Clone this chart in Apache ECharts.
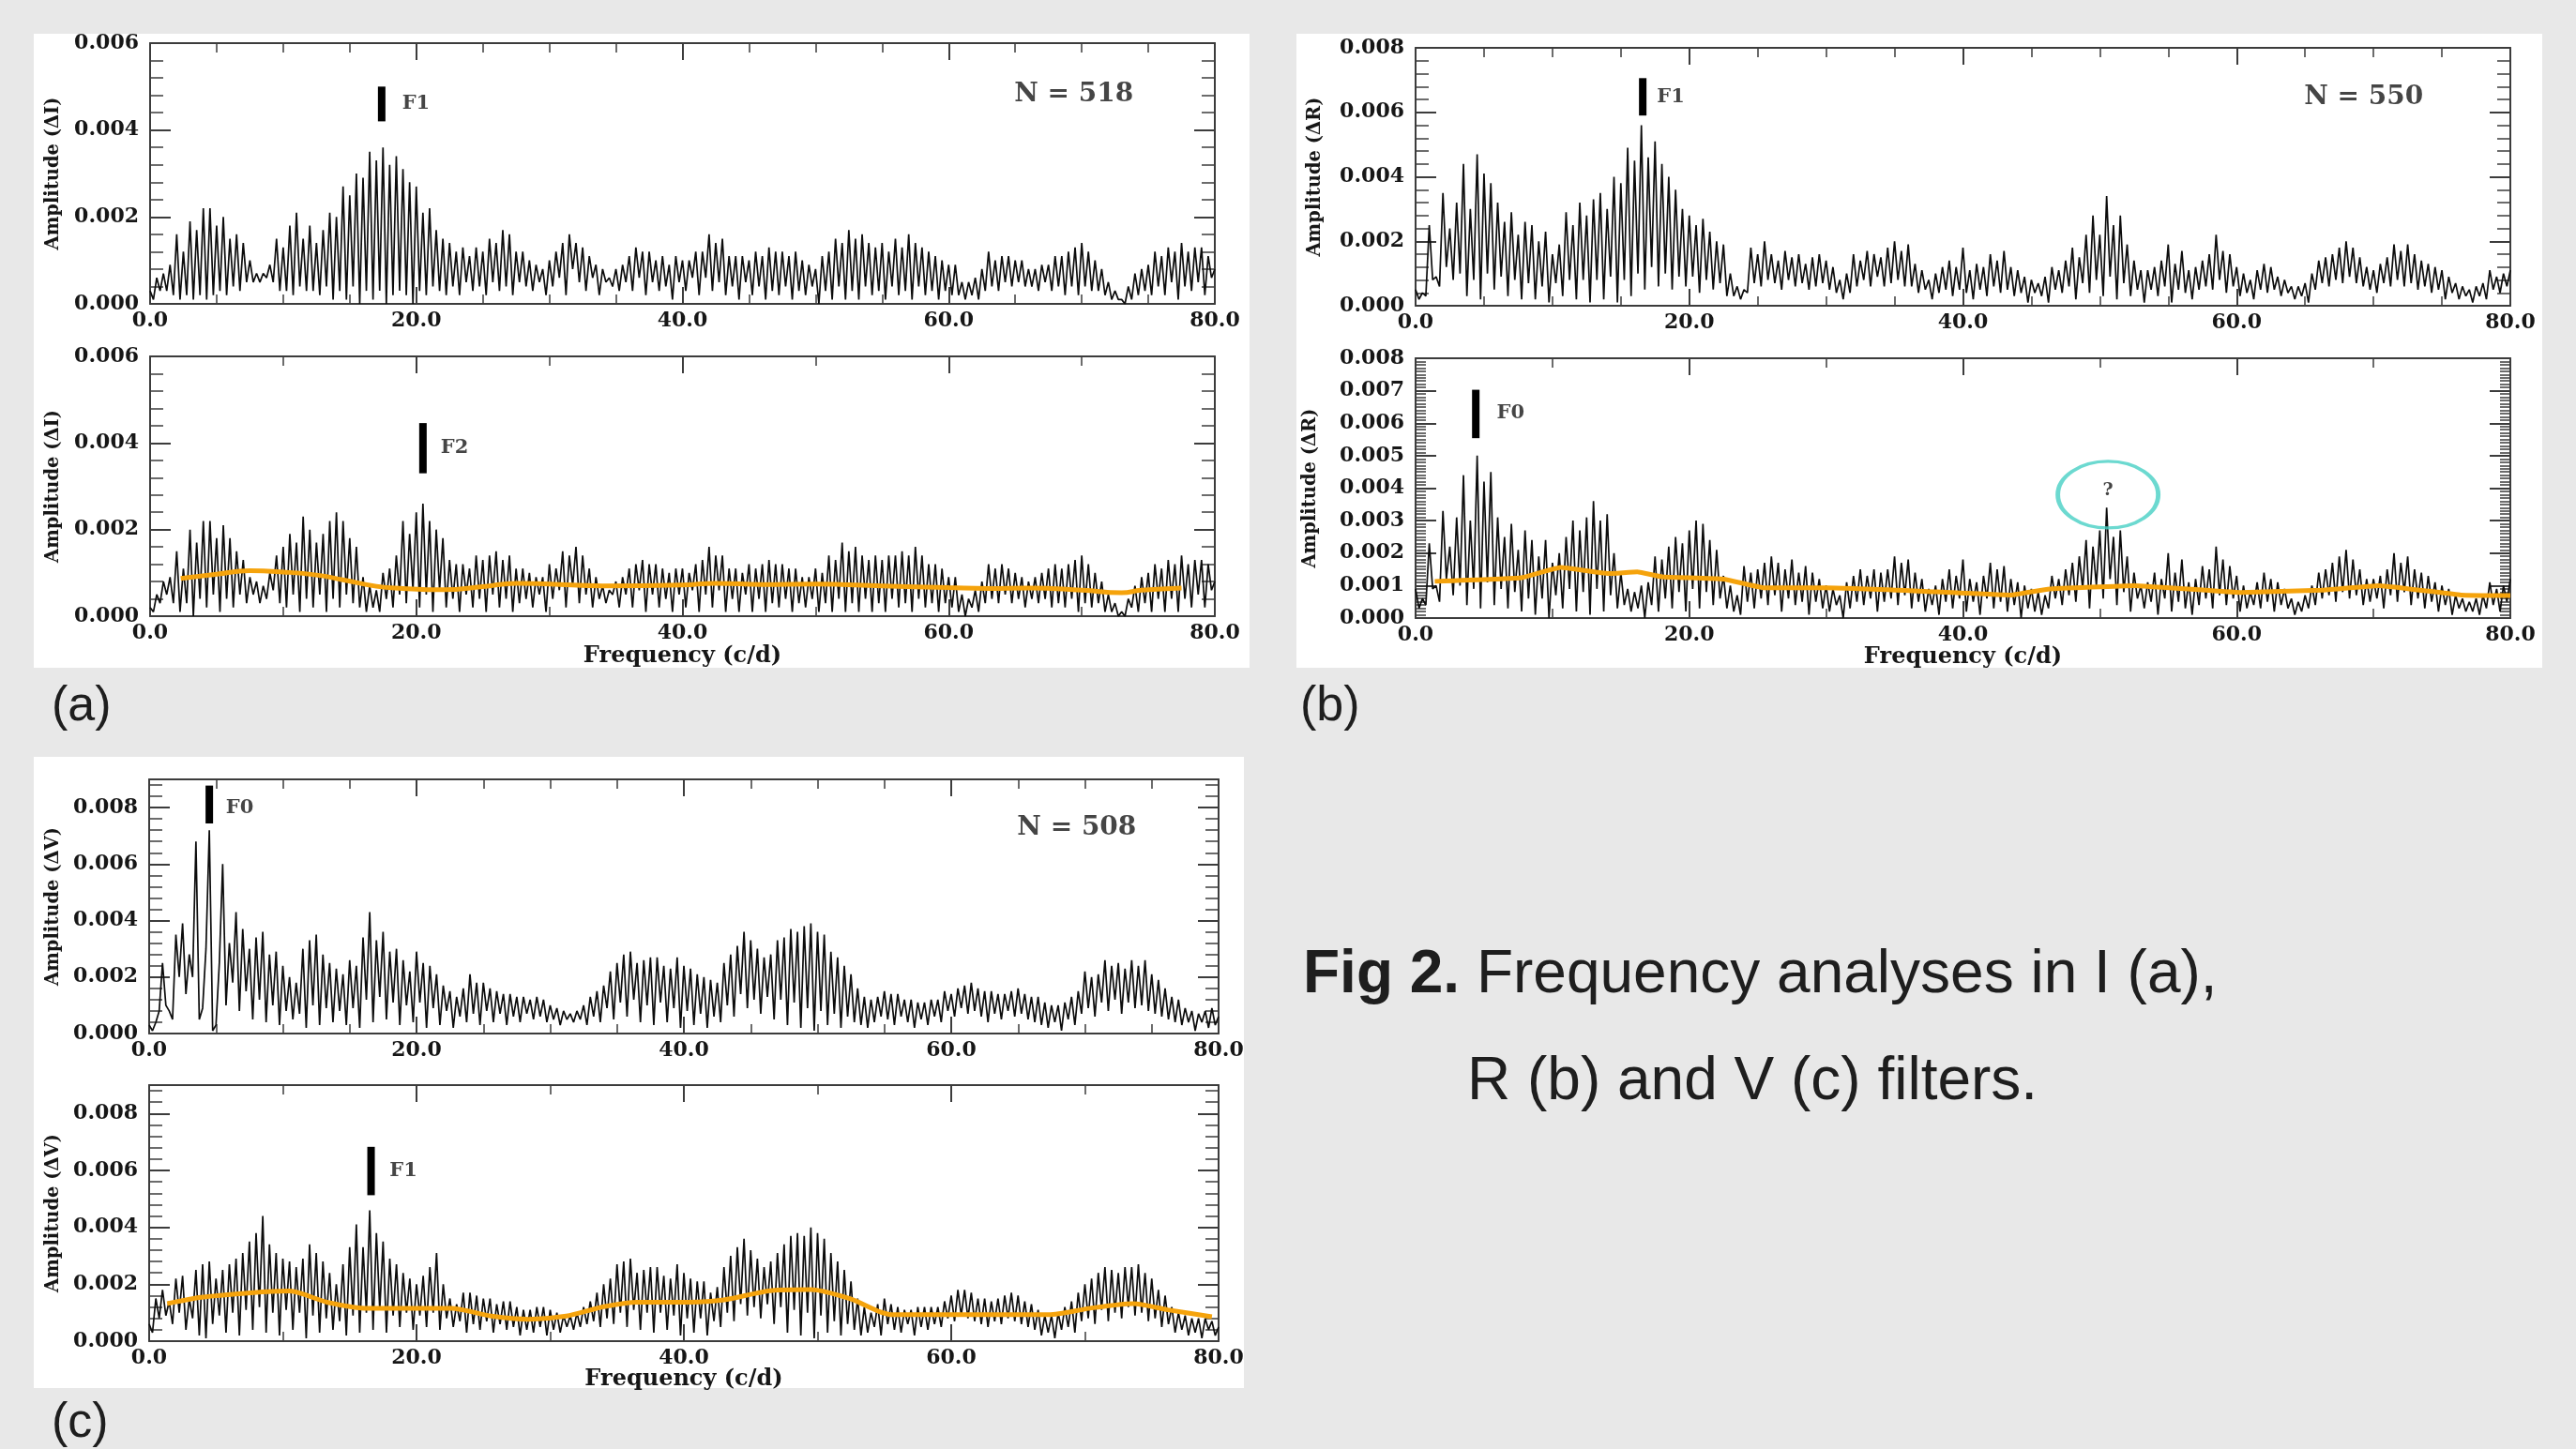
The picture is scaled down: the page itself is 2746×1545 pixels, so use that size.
<!DOCTYPE html>
<html>
<head>
<meta charset="utf-8">
<script src="https://cdn.jsdelivr.net/npm/echarts/dist/echarts.min.js"></script>
<style>
html,body{margin:0;padding:0;background:#e8e8e8;}
#chart{width:2746px;height:1545px;}
</style>
</head>
<body>
<div id="chart"></div>
<script>
// ---------------- DATA (amplitudes in units of 1e-4 mag) ----------------
const FREQ_STEP = 0.5;              // spacing of the peak samples (c/d); troughs sit half-way between
const xTickLabels = ['0.0', '20.0', '40.0', '60.0', '80.0'];
const yTickLabelsI = ['0.000', '0.002', '0.004', '0.006'];
const yTickLabelsR = ['0.000', '0.002', '0.004', '0.006', '0.008'];
const yTickLabelsRfine = ['0.000', '0.001', '0.002', '0.003', '0.004', '0.005', '0.006', '0.007', '0.008'];
const yTickLabelsV = ['0.000', '0.002', '0.004', '0.006', '0.008'];

// (a) I filter, original spectrum
const aTopPeaks = [
 3,6,7,9,16,12,19,17,22,22,18,20,15,16,14,10,7,7,9,15,
 13,18,21,15,18,14,17,21,20,27,25,30,29,35,33,36,32,34,31,28,
 27,21,22,17,15,14,12,13,11,13,12,15,14,17,16,12,12,10,9,8,
 10,12,14,16,14,13,11,9,8,6,8,9,11,13,12,12,10,11,9,11,
 10,10,12,12,16,14,15,11,11,11,10,12,11,13,12,12,11,12,10,9,
 8,11,12,15,14,17,15,16,14,13,14,12,15,13,16,14,13,12,11,10,
 9,9,5,5,6,8,12,10,11,11,10,10,8,8,9,9,11,11,12,13,
 14,12,10,8,5,3,1,4,7,8,9,12,11,13,12,14,12,13,13,11,
 8];
const aTopTroughs = [
 1,3,3,2,1,2,1,2,1,2,3,2,4,3,5,5,5,6,5,3,
 3,2,4,3,3,2,4,1,3,1,4,0,3,1,3,0,2,3,2,0,
 3,2,4,3,2,4,2,5,3,4,2,5,3,4,2,5,4,3,5,2,
 4,6,2,8,5,3,6,2,5,4,3,5,3,6,2,5,3,4,1,5,
 3,6,2,6,3,5,2,4,1,5,2,4,1,3,2,4,1,3,2,4,
 0,3,1,4,1,3,1,4,2,3,1,4,2,3,1,4,2,3,1,3,
 2,2,1,2,1,3,4,3,5,4,5,4,4,3,5,3,4,2,4,2,
 4,3,3,2,1,1,0,1,2,3,2,4,2,5,1,4,3,5,2,6];

// (a) I filter, after prewhitening
const aBotPeaks = [
 2,5,8,9,15,11,20,17,22,22,18,21,18,15,13,9,8,7,10,14,
 16,19,17,23,20,17,19,22,24,22,18,16,9,7,6,10,11,14,22,19,
 24,26,22,20,18,13,12,12,11,14,13,14,15,13,14,11,11,10,9,9,
 12,11,15,14,16,14,11,9,7,6,8,9,11,12,13,12,12,11,10,11,
 11,10,12,13,16,14,14,11,11,10,12,11,12,13,12,12,11,11,9,9,
 11,10,14,13,17,15,16,14,13,14,13,14,14,15,14,16,14,12,12,11,
 9,9,5,4,6,8,12,11,12,11,10,9,8,9,10,11,12,11,12,13,
 14,12,10,8,5,3,1,4,7,9,10,12,11,13,12,14,12,13,13,12,
 8];
const aBotTroughs = [
 1,3,5,3,1,3,0,4,2,5,1,4,2,5,3,5,3,4,6,3,
 2,5,1,4,2,5,1,4,2,5,3,2,1,2,1,4,2,5,3,6,
 2,5,1,6,2,4,1,5,2,4,1,5,2,4,1,3,4,2,5,1,
 4,6,2,7,3,5,2,4,3,5,2,5,2,6,1,5,2,4,1,5,
 2,6,1,5,2,6,1,4,1,5,1,4,1,3,2,4,1,3,2,4,
 1,3,1,4,1,3,1,4,1,3,1,4,2,3,1,4,2,3,1,3,
 2,1,0,2,1,3,4,3,5,3,4,2,4,3,4,2,3,2,4,1,
 3,2,3,1,1,0,0,2,1,3,1,4,1,4,1,4,2,5,2,6];
const aBotMeanFreq = [2.3,5,7.5,10,12.5,14.5,17,19,22,25,27.5,30,34,40,42.5,46,50,55,60,63,66,70,73,74.5,77.5];
const aBotMeanAmp  = [8.7,9.7,10.5,10.2,9.5,8.4,6.9,6.4,6.1,6.8,7.6,7.4,7.0,7.2,7.6,7.3,7.4,7.0,6.6,6.4,6.5,6.0,5.4,6.0,6.5];

// (b) R filter, original spectrum
const bTopPeaks = [
 5,4,25,9,35,24,32,44,30,47,41,38,32,26,29,22,26,25,20,23,
 16,19,29,25,32,28,33,35,30,40,38,49,45,56,46,51,44,40,36,30,
 28,25,27,23,20,19,10,6,5,18,16,20,16,14,17,15,16,13,15,16,
 14,12,8,10,16,14,17,16,15,18,20,17,19,13,11,8,10,12,14,12,
 18,11,13,12,16,14,17,12,11,9,8,7,9,12,11,14,18,15,22,28,
 22,34,25,28,19,14,11,11,12,14,19,13,17,11,12,14,16,22,17,16,
 12,10,8,11,13,12,9,8,6,6,7,10,14,15,16,18,20,18,15,12,
 11,13,15,19,17,19,16,14,13,12,11,9,7,6,5,6,7,11,9,10,
 11];
const bTopTroughs = [
 2,3,8,6,12,8,10,3,8,2,10,5,9,3,8,2,7,2,6,1,
 7,3,8,2,8,1,8,2,9,1,8,3,10,5,12,6,10,5,9,6,
 9,4,8,5,7,3,3,2,4,7,6,8,7,5,8,6,7,5,6,7,
 5,4,2,4,6,8,6,9,6,7,8,6,6,4,5,2,4,5,3,5,
 4,2,5,3,6,4,5,3,4,1,4,3,1,5,4,6,2,7,4,8,
 3,9,2,7,3,5,1,5,3,6,1,5,4,2,5,6,5,8,4,6,
 3,4,2,5,4,5,3,4,2,3,1,5,7,6,8,7,9,7,6,5,
 4,7,6,8,6,7,5,6,4,5,2,4,2,3,1,3,2,5,4,6];

// (b) R filter, after prewhitening
const bBotPeaks = [
 9,6,23,10,33,22,31,44,30,50,42,45,31,25,29,21,27,24,19,24,
 17,20,25,30,27,31,36,30,32,20,14,9,8,10,11,19,18,22,25,23,
 27,30,29,24,21,13,10,7,16,14,15,17,19,17,15,18,14,16,14,12,
 10,9,7,11,13,15,13,15,14,15,19,17,18,14,12,9,10,12,15,13,
 18,12,11,13,17,15,16,12,11,10,9,8,7,13,12,15,17,19,24,22,
 27,34,25,27,19,14,10,11,14,12,20,14,18,11,12,16,15,22,18,16,
 13,10,8,11,14,12,11,9,6,5,7,10,14,15,17,19,21,18,15,12,
 12,13,15,20,17,19,15,14,13,11,10,9,7,6,5,6,7,11,9,10,
 12];
const bBotTroughs = [
 3,4,9,5,12,7,10,4,9,3,11,4,9,3,8,2,6,1,6,0,
 7,3,9,2,8,1,9,2,7,3,4,2,3,0,4,2,6,3,8,2,
 9,3,8,4,6,3,2,1,5,3,6,4,7,2,6,4,5,1,5,3,
 2,4,0,3,5,4,6,2,5,6,4,7,3,5,2,4,1,5,3,6,
 2,5,1,6,3,5,2,4,0,3,2,1,3,6,4,7,5,9,3,10,
 6,12,4,8,2,6,3,5,1,6,2,5,3,1,4,6,3,7,4,6,
 2,3,4,3,5,2,4,3,1,2,3,4,6,7,5,8,6,7,4,5,
 6,3,7,5,8,4,6,3,5,2,4,1,3,2,2,1,3,4,2,5];
const bBotMeanFreq = [1.4,7.7,10.6,14.1,16.2,18,22.5,25.5,30,36.4,43.5,46.2,52.5,60.3,66.2,70.4,76.4,80];
const bBotMeanAmp  = [11.3,12.4,15.6,13.7,14.2,12.7,12.0,9.3,9.3,8.4,7.1,8.9,10.0,7.9,8.6,10.0,7.1,6.9];

// (c) V filter, original spectrum
const cTopPeaks = [
 3,4,25,8,35,39,28,68,9,72,3,60,32,43,37,30,34,36,28,29,
 24,20,18,30,33,35,28,25,23,21,26,24,34,43,33,36,29,30,26,22,
 29,25,24,21,17,15,13,16,21,18,18,16,15,14,14,13,13,12,13,12,
 10,9,8,7,8,10,13,15,17,22,25,28,29,25,26,27,27,24,23,27,
 24,23,21,20,19,18,25,28,31,36,33,30,27,28,33,34,37,36,38,39,
 36,35,29,27,24,21,16,13,12,13,15,14,14,12,12,11,11,12,12,15,
 14,16,17,18,16,15,15,14,14,15,16,14,13,13,11,10,10,11,13,15,
 22,20,21,26,24,25,23,26,24,26,21,19,16,13,12,9,8,7,8,9,
 6];
const cTopTroughs = [
 1,8,10,5,20,14,20,5,30,1,25,10,18,8,15,5,12,4,10,3,
 8,5,7,2,10,3,9,4,8,3,9,2,12,4,13,5,11,3,10,4,
 11,2,9,3,8,2,6,4,7,3,8,4,7,3,6,4,7,5,6,4,
 5,3,5,4,5,3,6,4,9,5,11,6,12,4,10,3,11,4,9,2,
 8,3,7,2,6,4,10,6,14,9,12,7,13,5,12,3,11,2,9,1,
 8,3,7,2,6,4,3,2,4,6,5,3,6,4,2,5,3,6,4,8,
 6,9,7,8,6,4,7,5,8,6,7,5,4,3,2,4,1,5,3,7,
 9,6,11,8,12,7,11,9,10,8,7,6,5,4,3,4,1,4,2,3];

// (c) V filter, after prewhitening
const cBotPeaks = [
 6,15,18,14,22,23,15,25,27,28,22,25,27,29,31,35,38,44,34,31,
 29,28,26,29,34,31,28,24,20,27,33,41,33,46,38,35,29,27,24,22,
 20,23,26,31,20,15,13,17,17,16,15,15,13,14,14,12,11,11,12,12,
 11,10,9,9,10,12,14,17,20,22,27,28,29,24,25,26,26,23,22,27,
 24,22,21,21,17,19,26,30,33,36,32,29,26,28,31,34,37,38,37,40,
 38,36,31,28,25,21,15,12,10,13,15,13,12,11,11,12,12,12,12,14,
 16,18,18,17,15,15,14,15,16,17,16,14,13,11,9,9,10,12,14,17,
 20,22,24,26,25,24,26,26,27,24,22,18,16,12,10,9,8,8,8,7,
 5];
const cBotTroughs = [
 3,8,9,6,10,4,8,2,1,6,9,3,10,2,11,4,12,3,10,2,
 11,4,10,1,9,3,8,4,7,2,9,3,10,4,11,3,9,5,10,4,
 9,5,10,4,8,5,7,3,6,4,7,3,6,4,5,2,4,3,5,2,
 4,3,5,4,5,6,7,5,8,6,10,5,11,4,10,3,10,4,9,2,
 8,3,8,2,7,5,10,7,13,9,12,8,13,6,12,3,11,2,10,1,
 9,3,7,2,6,4,2,3,5,2,6,4,3,6,2,5,4,6,5,8,
 7,9,8,7,6,5,7,6,8,7,6,5,4,2,3,1,4,5,3,7,
 8,6,11,7,10,8,12,9,10,7,8,5,6,3,4,2,3,1,4,2];
const cBotMeanFreq = [1.35,3.9,7.6,10.5,13.3,16.4,22.6,25.6,28.4,31.2,34,36.5,40.4,43,46.6,49.5,52.5,55.5,60.2,67.3,70.3,73.6,76.2,79.5];
const cBotMeanAmp  = [13.2,15.4,17.0,17.6,13.7,11.5,11.5,8.8,7.7,8.8,12.1,13.7,13.7,14.5,17.8,18.1,14.8,9.3,9.3,9.3,11.5,13.2,11.0,8.6];

// identified-frequency markers (panels: aTop, aBot, bTop, bBot, cTop, cBot)
const markerNames     = ['F1', 'F2', 'F1', 'F0', 'F0', 'F1'];
const markerFreq      = [17.4, 20.5, 16.6, 4.4, 4.5, 16.6];
const markerLow       = [42.0, 33.0, 59.0, 55.4, 74.4, 51.3];
const markerHigh      = [50.0, 44.6, 70.6, 70.3, 87.8, 68.3];
const markerLabelFreq = [18.9, 21.8, 17.6, 5.9, 5.7, 17.95];
const markerLabelAmp  = [46.0, 38.9, 64.6, 63.1, 80.0, 59.9];
// number of points
const countTexts = ['N = 518', 'N = 550', 'N = 508'];
const countFreq  = [64.9, 64.9, 64.9];
const countAmp   = [48.1, 64.8, 72.8];
// questionable peak in (b) lower panel
const questionFreq = 50.6;
const questionAmp = 38.0;

// ---------------- helpers ----------------
function check(arr, n, name) { if (arr.length !== n) throw new Error(name + ' has ' + arr.length + ' values, expected ' + n); }
[['aTopPeaks',aTopPeaks],['aBotPeaks',aBotPeaks],['bTopPeaks',bTopPeaks],['bBotPeaks',bBotPeaks],['cTopPeaks',cTopPeaks],['cBotPeaks',cBotPeaks]].forEach(a => check(a[1], 161, a[0]));
[['aTopTroughs',aTopTroughs],['aBotTroughs',aBotTroughs],['bTopTroughs',bTopTroughs],['bBotTroughs',bBotTroughs],['cTopTroughs',cTopTroughs],['cBotTroughs',cBotTroughs]].forEach(a => check(a[1], 160, a[0]));

function spectrum(peaks, troughs) {
  const d = [];
  for (let i = 0; i < peaks.length; i++) {
    d.push([i * FREQ_STEP, peaks[i]]);
    if (i < troughs.length) d.push([i * FREQ_STEP + FREQ_STEP / 2, troughs[i]]);
  }
  return d;
}
function pairs(xs, ys) { return xs.map((x, i) => [x, ys[i]]); }

const SERIF = 'DejaVu Serif';
const INK = '#161616';
const FRAME = '#3c3c3c';
const ORANGE = '#f5a30c';
const TEAL = '#47cfc4';

const grids = [], xAxes = [], yAxes = [], series = [];

function addPanel(p, idx) {
  const gi = grids.length;
  grids.push(Object.assign({ outerBoundsMode: 'none', containLabel: false }, p.box));
  const axisLine = { show: true, onZero: false, lineStyle: { color: FRAME, width: 2 } };
  const xBase = {
    gridIndex: gi, type: 'value', min: 0, max: 80, interval: 20,
    splitLine: { show: false }, axisLine: axisLine,
    axisTick: { show: true, inside: true, length: 18, lineStyle: { color: FRAME, width: 2 } },
    minorTick: { show: true, splitNumber: p.xMinor, length: 10, lineStyle: { color: FRAME, width: 1.5 } }
  };
  const xi = xAxes.length;
  xAxes.push(Object.assign({}, xBase, {
    position: 'bottom',
    axisLabel: { show: true, margin: 7, fontFamily: SERIF, fontWeight: 'bold', fontSize: 22, color: INK,
      formatter: v => xTickLabels[Math.round(v / 20)] || '' },
    name: p.xName || '', nameLocation: 'middle', nameGap: p.xNameGap || 31, nameMoveOverlap: false,
    nameTextStyle: { fontFamily: SERIF, fontWeight: 'bold', fontSize: 24, color: INK }
  }));
  xAxes.push(Object.assign({}, xBase, { position: 'top', axisLabel: { show: false } }));

  const yBase = {
    gridIndex: gi, type: 'value', min: 0, max: p.yMax, interval: p.yStep,
    splitLine: { show: false }, axisLine: axisLine,
    axisTick: { show: true, inside: true, length: 22, lineStyle: { color: FRAME, width: 2 } },
    minorTick: { show: true, splitNumber: p.yMinor, length: p.yMinorLen || 14, lineStyle: { color: FRAME, width: 1.5 } }
  };
  const yi = yAxes.length;
  yAxes.push(Object.assign({}, yBase, {
    position: 'left',
    axisLabel: { show: true, margin: 12, fontFamily: SERIF, fontWeight: 'bold', fontSize: 22, color: INK,
      formatter: v => { const k = Math.round(v / p.yStep); return Math.abs(k * p.yStep - v) < 1e-6 ? (p.yLabels[k] || '') : ''; } },
    name: p.yName, nameLocation: 'middle', nameGap: p.yNameGap, nameMoveOverlap: false,
    nameTextStyle: { fontFamily: SERIF, fontWeight: 'bold', fontSize: 19.5, color: INK }
  }));
  yAxes.push(Object.assign({}, yBase, { position: 'right', axisLabel: { show: false } }));

  series.push({
    type: 'line', xAxisIndex: xi, yAxisIndex: yi, data: spectrum(p.peaks, p.troughs),
    symbol: 'none', silent: true, animation: false, z: 2,
    lineStyle: { color: '#0c0c0c', width: 1.7 }
  });
  if (p.meanF) {
    series.push({
      type: 'line', xAxisIndex: xi, yAxisIndex: yi, data: pairs(p.meanF, p.meanA),
      smooth: p.meanSmooth, symbol: 'none', silent: true, animation: false, z: 4,
      lineStyle: { color: ORANGE, width: 5 }
    });
  }
  series.push({
    type: 'line', xAxisIndex: xi, yAxisIndex: yi,
    data: [[markerFreq[idx], markerLow[idx]], [markerFreq[idx], markerHigh[idx]]],
    symbol: 'none', silent: true, animation: false, z: 5,
    lineStyle: { color: '#000', width: 8, cap: 'butt' }
  });
  const texts = [{ value: [markerLabelFreq[idx], markerLabelAmp[idx]], name: markerNames[idx], label: { fontSize: 21 } }];
  if (p.count !== undefined) {
    texts.push({ value: [countFreq[p.count], countAmp[p.count]], name: countTexts[p.count], label: { fontSize: 28 } });
  }
  series.push({
    type: 'scatter', xAxisIndex: xi, yAxisIndex: yi, data: texts,
    symbolSize: 1, itemStyle: { color: 'rgba(0,0,0,0)' }, silent: true, animation: false, z: 6,
    label: { show: true, position: 'right', distance: 0, formatter: '{b}', fontFamily: SERIF, fontWeight: 'bold', color: INK }
  });
  return { xi, yi };
}

const panels = [
  { box: { left: 160, top: 46, width: 1135, height: 278 }, peaks: aTopPeaks, troughs: aTopTroughs,
    yMax: 60, yStep: 20, yMinor: 5, yLabels: yTickLabelsI, yName: 'Amplitude (\u0394I)', yNameGap: 93, xMinor: 4, count: 0 },
  { box: { left: 160, top: 380, width: 1135, height: 277 }, peaks: aBotPeaks, troughs: aBotTroughs,
    yMax: 60, yStep: 20, yMinor: 5, yLabels: yTickLabelsI, yName: 'Amplitude (\u0394I)', yNameGap: 93, xMinor: 2,
    xName: 'Frequency (c/d)', xNameGap: 31, meanF: aBotMeanFreq, meanA: aBotMeanAmp, meanSmooth: 0.5 },
  { box: { left: 1509, top: 51, width: 1167, height: 275 }, peaks: bTopPeaks, troughs: bTopTroughs,
    yMax: 80, yStep: 20, yMinor: 5, yLabels: yTickLabelsR, yName: 'Amplitude (\u0394R)', yNameGap: 97, xMinor: 4, count: 1 },
  { box: { left: 1509, top: 382, width: 1167, height: 277 }, peaks: bBotPeaks, troughs: bBotTroughs,
    yMax: 80, yStep: 10, yMinor: 10, yMinorLen: 11, yLabels: yTickLabelsRfine, yName: 'Amplitude (\u0394R)', yNameGap: 102, xMinor: 2,
    xName: 'Frequency (c/d)', xNameGap: 30, meanF: bBotMeanFreq, meanA: bBotMeanAmp, meanSmooth: 0.1 },
  { box: { left: 159, top: 831, width: 1140, height: 271 }, peaks: cTopPeaks, troughs: cTopTroughs,
    yMax: 90, yStep: 20, yMinor: 5, yLabels: yTickLabelsV, yName: 'Amplitude (\u0394V)', yNameGap: 92, xMinor: 4, count: 2 },
  { box: { left: 159, top: 1157, width: 1140, height: 273 }, peaks: cBotPeaks, troughs: cBotTroughs,
    yMax: 90, yStep: 20, yMinor: 5, yLabels: yTickLabelsV, yName: 'Amplitude (\u0394V)', yNameGap: 92, xMinor: 2,
    xName: 'Frequency (c/d)', xNameGap: 29, meanF: cBotMeanFreq, meanA: cBotMeanAmp, meanSmooth: 0.25 }
];

const refs = panels.map((p, i) => addPanel(p, i));

// teal ellipse with question mark (panel b, lower)
series.push({
  type: 'scatter', xAxisIndex: refs[3].xi, yAxisIndex: refs[3].yi,
  data: [[questionFreq, questionAmp]], symbol: 'circle', symbolSize: [107, 71],
  itemStyle: { color: 'rgba(0,0,0,0)', borderColor: TEAL, borderWidth: 4 },
  label: { show: true, position: 'inside', formatter: '?', fontFamily: SERIF, fontWeight: 'bold', fontSize: 19, color: INK, offset: [0, -4] },
  silent: true, animation: false, z: 7
});

const chart = echarts.init(document.getElementById('chart'), null, { renderer: 'canvas' });
chart.setOption({
  backgroundColor: '#e8e8e8',
  animation: false,
  graphic: [
    { type: 'rect', shape: { x: 36, y: 36, width: 1296, height: 676 }, style: { fill: '#ffffff' }, z: -10, silent: true },
    { type: 'rect', shape: { x: 1382, y: 36, width: 1328, height: 676 }, style: { fill: '#ffffff' }, z: -10, silent: true },
    { type: 'rect', shape: { x: 36, y: 807, width: 1290, height: 673 }, style: { fill: '#ffffff' }, z: -10, silent: true },
    { type: 'text', x: 55, y: 754, style: { text: '(a)', fontFamily: 'Liberation Sans', fontSize: 52, fill: '#1e1e1e', verticalAlign: 'middle' }, silent: true },
    { type: 'text', x: 1386, y: 754, style: { text: '(b)', fontFamily: 'Liberation Sans', fontSize: 52, fill: '#1e1e1e', verticalAlign: 'middle' }, silent: true },
    { type: 'text', x: 55, y: 1518, style: { text: '(c)', fontFamily: 'Liberation Sans', fontSize: 52, fill: '#1e1e1e', verticalAlign: 'middle' }, silent: true },
    { type: 'text', x: 1389, y: 1040, style: {
        text: '{b|Fig 2.} Frequency analyses in I (a),', fontFamily: 'Liberation Sans', fontSize: 64, fill: '#1e1e1e', verticalAlign: 'middle',
        rich: { b: { fontFamily: 'Liberation Sans', fontSize: 64, fontWeight: 'bold', fill: '#1e1e1e' } } }, silent: true },
    { type: 'text', x: 1564, y: 1154, style: { text: 'R (b) and V (c) filters.', fontFamily: 'Liberation Sans', fontSize: 64, fill: '#1e1e1e', verticalAlign: 'middle' }, silent: true }
  ],
  grid: grids,
  xAxis: xAxes,
  yAxis: yAxes,
  series: series
});
</script>
</body>
</html>
